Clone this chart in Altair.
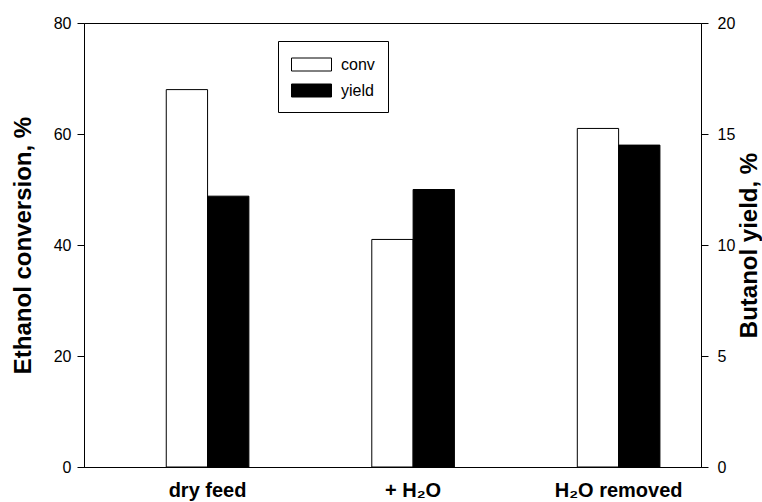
import altair as alt
import pandas as pd

categories = ["dry feed", "+ H\u2082O", "H\u2082O removed"]
series_names = ["conv", "yield"]
conv_values = [68, 41, 61]
yield_values = [12.2, 12.5, 14.5]

rows = []
for c, v in zip(categories, conv_values):
    rows.append({"cat": c, "series": "conv", "value": v})
for c, v in zip(categories, yield_values):
    rows.append({"cat": c, "series": "yield", "value": v})
df = pd.DataFrame(rows)

FONT = "Liberation Sans"

x_enc = alt.X(
    "cat:N",
    sort=categories,
    scale=alt.Scale(paddingInner=0.598, paddingOuter=0.3, align=0.667),
    axis=alt.Axis(
        title=None, ticks=False, tickSize=0, labelAngle=0, labelFontWeight="bold",
        labelFontSize=20, labelPadding=13, domainColor="black", labelColor="black",
    ),
)
xoff_enc = alt.XOffset(
    "series:N", scale=alt.Scale(domain=series_names, paddingInner=0, paddingOuter=0)
)
color_enc = alt.Color(
    "series:N",
    scale=alt.Scale(domain=series_names, range=["white", "black"]),
    legend=alt.Legend(
        title=None, orient="none", legendX=194, legendY=18,
        strokeColor="black", fillColor="white", padding=13,
        symbolType="M-1,-0.65H3V0.65H-1Z", symbolSize=400,
        symbolStrokeColor="black", symbolStrokeWidth=1,
        labelFontSize=16, labelFont=FONT, labelColor="black", labelOffset=29,
        labelExpr="datum.label + '\u00a0\u00a0'",
        rowPadding=7,
    ),
)

base = alt.Chart(df)

conv_layer = base.transform_filter(alt.datum.series == "conv").mark_bar(
    stroke="black", strokeWidth=1
).encode(
    x=x_enc,
    xOffset=xoff_enc,
    y=alt.Y(
        "value:Q",
        scale=alt.Scale(domain=[0, 80]),
        axis=alt.Axis(
            title="Ethanol conversion, %", orient="left", values=[0, 20, 40, 60, 80],
            grid=False, tickSize=7, labelPadding=6, labelFontSize=16,
            titleFontSize=24, titleFontWeight="bold", titlePadding=18,
        ),
    ),
    color=color_enc,
)

yield_layer = base.transform_filter(alt.datum.series == "yield").mark_bar(
    stroke="black", strokeWidth=1
).encode(
    x=x_enc,
    xOffset=xoff_enc,
    y=alt.Y(
        "value:Q",
        scale=alt.Scale(domain=[0, 20]),
        axis=alt.Axis(
            title="Butanol yield, %", orient="right", values=[0, 5, 10, 15, 20],
            grid=False, tickSize=7, labelPadding=9, labelFontSize=16,
            titleFontSize=24, titleFontWeight="bold", titlePadding=3,
            titleAngle=270, titleBaseline="top",
        ),
    ),
    color=color_enc,
)

chart = (
    alt.layer(conv_layer, yield_layer)
    .resolve_scale(y="independent")
    .properties(
        width=617, height=444,
        autosize=alt.AutoSizeParams(type="none"),
        padding={"left": 84, "top": 23, "right": 61, "bottom": 35},
        background="white",
    )
    .configure_view(stroke="black", strokeWidth=1)
    .configure_axis(
        labelFont=FONT, titleFont=FONT, domainColor="black", tickColor="black",
        labelColor="black", titleColor="black", domainWidth=1, tickWidth=1,
    )
)

chart.save("out.html", embed_options={"renderer": "svg", "actions": False})
